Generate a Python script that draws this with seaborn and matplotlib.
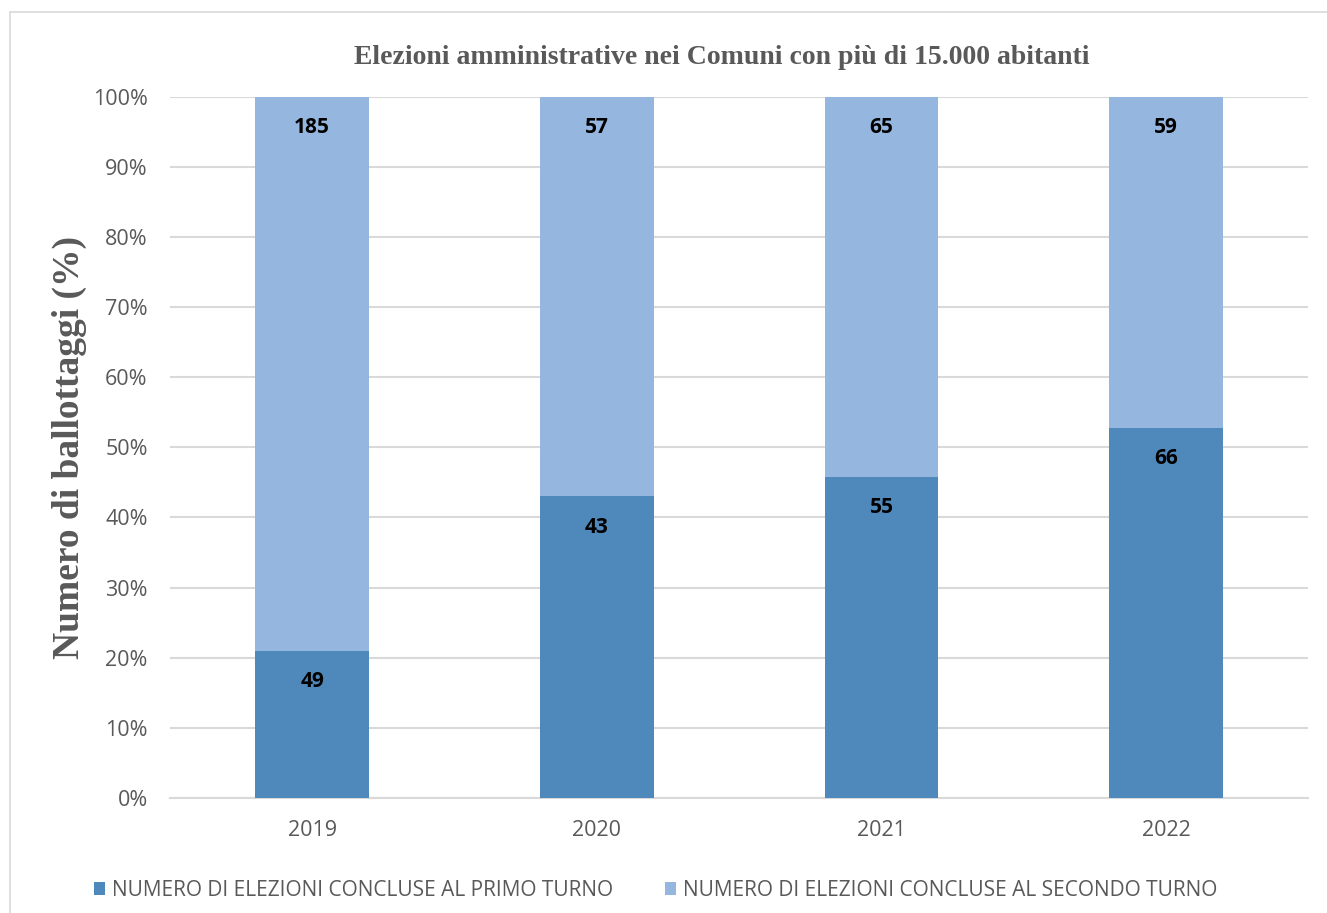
import matplotlib
matplotlib.use("Agg")
from matplotlib import pyplot as plt, patches
from matplotlib.ticker import PercentFormatter
import seaborn as sns
import numpy as np
import pandas as pd

years = ["2019", "2020", "2021", "2022"]
primo_turno = [49, 43, 55, 66]
secondo_turno = [185, 57, 65, 59]

title = "Elezioni amministrative nei Comuni con più di 15.000 abitanti"
ylabel = "Numero di ballottaggi (%)"
label_primo = "NUMERO DI ELEZIONI CONCLUSE AL PRIMO TURNO"
label_secondo = "NUMERO DI ELEZIONI CONCLUSE AL SECONDO TURNO"

dark = "#4F88BB"
light = "#95B7DF"
grey = "#595959"
grid = "#D9D9D9"

sns.set_style("white")
plt.rcParams["font.family"] = ["Open Sans", "DejaVu Sans"]

df = pd.DataFrame({"anno": years, "primo": primo_turno, "secondo": secondo_turno})
df["tot"] = df["primo"] + df["secondo"]
df["pct_primo"] = df["primo"] / df["tot"] * 100
df["pct_tot"] = 100.0

fig = plt.figure(figsize=(13.27, 9.13), dpi=100)
ax = fig.add_axes([0.128, 0.126, 0.858, 0.768])

# outer chart frame
fig.patches.append(patches.Rectangle((10 / 1327, -0.1), 1.2, 1 - 12 / 913 + 0.1,
                                     transform=fig.transFigure, fill=False,
                                     edgecolor=grid, linewidth=1.2, zorder=0))

sns.barplot(data=df, x="anno", y="pct_tot", color=light, width=0.4,
            saturation=1, linewidth=0, ax=ax, zorder=3, label=label_secondo)
sns.barplot(data=df, x="anno", y="pct_primo", color=dark, width=0.4,
            saturation=1, linewidth=0, ax=ax, zorder=3, label=label_primo)

for i, row in df.iterrows():
    ax.annotate(str(row["secondo"]), (i, row["pct_tot"]), xytext=(0, -22),
                textcoords="offset points", ha="center", va="center",
                fontsize=15, fontweight="bold", color="black", zorder=5)
    ax.annotate(str(row["primo"]), (i, row["pct_primo"]), xytext=(0, -22),
                textcoords="offset points", ha="center", va="center",
                fontsize=15, fontweight="bold", color="black", zorder=5)

ax.set_ylim(0, 100)
ax.set_xlim(-0.5, 3.5)
ax.set_yticks(np.arange(0, 101, 10))
ax.yaxis.set_major_formatter(PercentFormatter(decimals=0))
ax.grid(axis="y", color=grid, linewidth=1.5, zorder=0)
ax.set_axisbelow(True)
for s in ["top", "right", "left"]:
    ax.spines[s].set_visible(False)
ax.spines["bottom"].set_color(grid)
ax.spines["bottom"].set_linewidth(1.5)
ax.tick_params(axis="both", length=0, labelsize=15.5, colors=grey)
ax.tick_params(axis="y", pad=16)
ax.tick_params(axis="x", pad=16)
ax.set_xlabel("")
ax.set_ylabel(ylabel, family="Liberation Serif", fontweight="bold",
              fontsize=27, color=grey, labelpad=4)

fig.text(0.544, 0.937, title, ha="center", va="center", family="Liberation Serif",
         fontweight="bold", fontsize=20, color=grey)

handles, labels = ax.get_legend_handles_labels()
order = [labels.index(label_primo), labels.index(label_secondo)]
ax.legend([handles[k] for k in order], [labels[k] for k in order],
          loc="center", bbox_to_anchor=(0.494, 0.025), bbox_transform=fig.transFigure,
          ncol=2, frameon=False, fontsize=15, labelcolor=grey,
          handlelength=0.55, handleheight=0.55, handletextpad=0.3, columnspacing=2.5)

fig.savefig("out.png", dpi=100)
